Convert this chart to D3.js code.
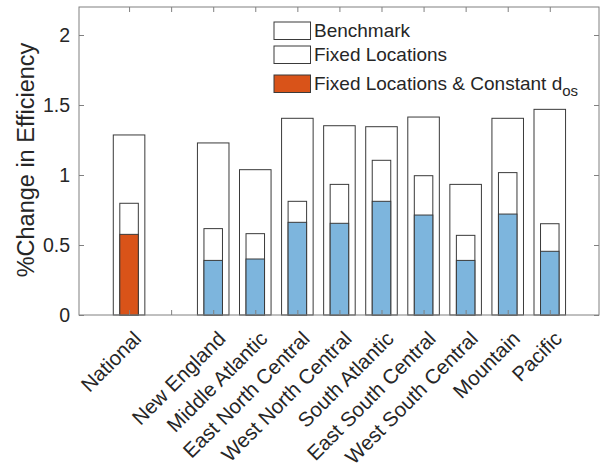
<!DOCTYPE html>
<html>
<head>
<meta charset="utf-8">
<script src="https://cdn.jsdelivr.net/npm/d3@7"></script>
<style>
  html, body { margin: 0; padding: 0; background: #fff; }
  svg text { font-family: "Liberation Sans", Arial, Helvetica, sans-serif; fill: #262626; }
</style>
</head>
<body>
<svg id="chart" width="608" height="470"></svg>
<script>
// Category order; position 2 is left empty between National and the regions
const categories = ["National", "New England", "Middle Atlantic", "East North Central",
  "West North Central", "South Atlantic", "East South Central", "West South Central",
  "Mountain", "Pacific"];
const positions = [1, 3, 4, 5, 6, 7, 8, 9, 10, 11];

const benchmark = [1.286, 1.229, 1.038, 1.405, 1.352, 1.345, 1.414, 0.933, 1.405, 1.469];
const fixedLocations = [0.798, 0.617, 0.581, 0.812, 0.933, 1.105, 0.995, 0.569, 1.017, 0.652];
const fixedConstantDos = [0.576, 0.390, 0.400, 0.662, 0.655, 0.812, 0.714, 0.390, 0.721, 0.455];

const yTicks = [0, 0.5, 1, 1.5, 2];
const yTickLabels = ["0", "0.5", "1", "1.5", "2"];
const xTickValues = [1, 2, 3, 4, 5, 6, 7, 8, 9, 10, 11];

const legendLabels = ["Benchmark", "Fixed Locations", "Fixed Locations & Constant d"];

const svg = d3.select("#chart");
const margin = { left: 79, top: 7, right: 9, bottom: 155 };
const W = 608, H = 470;
const x = d3.scaleLinear().domain([-0.19, 12.17]).range([margin.left, W - margin.right]);
const y = d3.scaleLinear().domain([0, 2.2]).range([H - margin.bottom, margin.top]);

const wideW = 0.75, narrowW = 0.44;
const edge = "#3a3a3a";
const orange = "#D95319";
const blue = "#7DB5DD";
const axisColor = "#808080";
const fontFam = "'Liberation Sans', Arial, sans-serif";

const g = svg.append("g");

// Benchmark bars (wide, white)
g.selectAll(".bench").data(positions).enter().append("rect")
  .attr("x", d => x(d - wideW / 2))
  .attr("width", d => x(d + wideW / 2) - x(d - wideW / 2))
  .attr("y", (d, i) => y(benchmark[i]))
  .attr("height", (d, i) => y(0) - y(benchmark[i]))
  .attr("fill", "#fff").attr("stroke", edge).attr("stroke-width", 1);

// Fixed-location bars (narrow, white)
g.selectAll(".fixed").data(positions).enter().append("rect")
  .attr("x", d => x(d - narrowW / 2))
  .attr("width", d => x(d + narrowW / 2) - x(d - narrowW / 2))
  .attr("y", (d, i) => y(fixedLocations[i]))
  .attr("height", (d, i) => y(0) - y(fixedLocations[i]))
  .attr("fill", "#fff").attr("stroke", edge).attr("stroke-width", 1);

// Fixed locations & constant d_os (narrow, coloured)
g.selectAll(".const").data(positions).enter().append("rect")
  .attr("x", d => x(d - narrowW / 2))
  .attr("width", d => x(d + narrowW / 2) - x(d - narrowW / 2))
  .attr("y", (d, i) => y(fixedConstantDos[i]))
  .attr("height", (d, i) => y(0) - y(fixedConstantDos[i]))
  .attr("fill", (d, i) => i === 0 ? orange : blue)
  .attr("stroke", edge).attr("stroke-width", 1);

// Axes box
const x0 = x.range()[0], x1 = x.range()[1], y0 = y.range()[0], y1 = y.range()[1];
svg.append("rect").attr("x", x0).attr("y", y1).attr("width", x1 - x0).attr("height", y0 - y1)
  .attr("fill", "none").attr("stroke", axisColor).attr("stroke-width", 1);

// Y axis ticks (left and right, inward)
const yAxisL = d3.axisLeft(y).tickValues(yTicks).tickSizeInner(-5).tickSizeOuter(0)
  .tickPadding(9).tickFormat((d, i) => yTickLabels[i]);
const yl = svg.append("g").attr("transform", `translate(${x0},0)`).call(yAxisL);
yl.select(".domain").remove();
yl.selectAll("line").attr("stroke", axisColor);
yl.selectAll("text").attr("font-size", 19.5).attr("fill", "#262626")
  .style("font-family", fontFam);

const yAxisR = d3.axisRight(y).tickValues(yTicks).tickSizeInner(-5).tickSizeOuter(0).tickFormat("");
const yr = svg.append("g").attr("transform", `translate(${x1},0)`).call(yAxisR);
yr.select(".domain").remove();
yr.selectAll("line").attr("stroke", axisColor);

// X axis ticks (bottom and top, inward) with rotated category labels
const labelAt = new Map(positions.map((p, i) => [p, categories[i]]));
const xAxisB = d3.axisBottom(x).tickValues(xTickValues).tickSizeInner(-5).tickSizeOuter(0)
  .tickFormat(d => labelAt.get(d) || "");
const xb = svg.append("g").attr("transform", `translate(0,${y0})`).call(xAxisB);
xb.select(".domain").remove();
xb.selectAll("line").attr("stroke", axisColor);
xb.selectAll("text")
  .attr("font-size", 20.5).attr("fill", "#262626")
  .style("font-family", fontFam)
  .attr("text-anchor", "end")
  .attr("dy", 0)
  .attr("x", 0).attr("y", 0)
  .attr("transform", "translate(13,25) rotate(-45)");

const xAxisT = d3.axisTop(x).tickValues(xTickValues).tickSizeInner(-5).tickSizeOuter(0).tickFormat("");
const xt = svg.append("g").attr("transform", `translate(0,${y1})`).call(xAxisT);
xt.select(".domain").remove();
xt.selectAll("line").attr("stroke", axisColor);

// Y axis title
svg.append("text")
  .attr("transform", `translate(34,160) rotate(-90)`)
  .attr("text-anchor", "middle")
  .attr("font-size", 23.5)
  .text("%Change in Efficiency");

// Legend
const legendFills = ["#fff", "#fff", orange];
const lg = svg.append("g");
const lx = 274, ly = [22, 46, 75], sw = 36.5, sh = 17.5;
legendLabels.forEach((lab, i) => {
  lg.append("rect").attr("x", lx).attr("y", ly[i]).attr("width", sw).attr("height", sh)
    .attr("fill", legendFills[i]).attr("stroke", edge).attr("stroke-width", 1);
  const t = lg.append("text").attr("x", lx + sw + 3.5).attr("y", ly[i] + 15)
    .attr("font-size", 19).text(lab);
  if (i === 2) {
    t.append("tspan").attr("font-size", 15).attr("dy", 6).text("os");
  }
});
</script>
</body>
</html>
